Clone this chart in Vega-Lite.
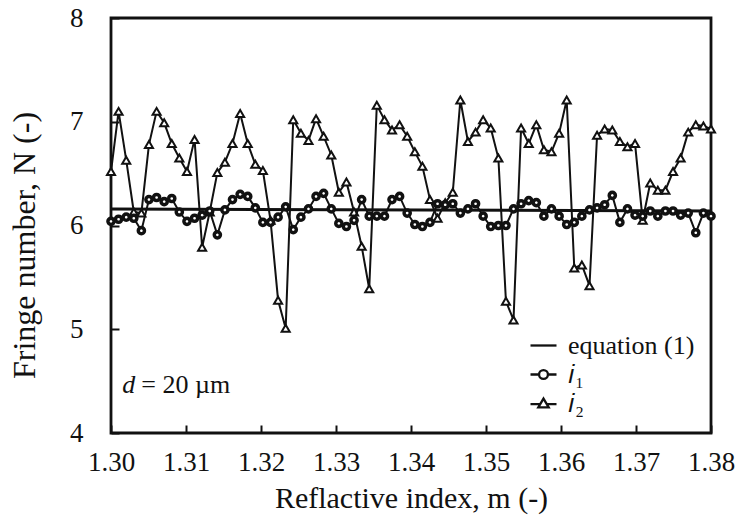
{
  "$schema": "https://vega.github.io/schema/vega-lite/v6.json",
  "width": 600,
  "height": 415,
  "autosize": {"type": "none"},
  "padding": {"left": 111, "top": 18, "right": 24, "bottom": 89},
  "background": "white",
  "datasets": {
    "eq": [
      {"m": 1.30, "N": 6.16},
      {"m": 1.38, "N": 6.14}
    ],
    "i2": [
      {"m": 1.30000, "N": 6.52}, {"m": 1.30101, "N": 7.10}, {"m": 1.30203, "N": 6.63}, {"m": 1.30304, "N": 6.13},
      {"m": 1.30405, "N": 6.12}, {"m": 1.30506, "N": 6.78}, {"m": 1.30608, "N": 7.10}, {"m": 1.30709, "N": 6.99},
      {"m": 1.30810, "N": 6.79}, {"m": 1.30911, "N": 6.65}, {"m": 1.31013, "N": 6.52}, {"m": 1.31114, "N": 6.83},
      {"m": 1.31215, "N": 5.79}, {"m": 1.31316, "N": 6.13}, {"m": 1.31418, "N": 6.51}, {"m": 1.31519, "N": 6.61},
      {"m": 1.31620, "N": 6.79}, {"m": 1.31722, "N": 7.08}, {"m": 1.31823, "N": 6.79}, {"m": 1.31924, "N": 6.59},
      {"m": 1.32025, "N": 6.53}, {"m": 1.32127, "N": 6.05}, {"m": 1.32228, "N": 5.28}, {"m": 1.32329, "N": 5.01},
      {"m": 1.32430, "N": 7.02}, {"m": 1.32532, "N": 6.89}, {"m": 1.32633, "N": 6.82}, {"m": 1.32734, "N": 7.03},
      {"m": 1.32835, "N": 6.86}, {"m": 1.32937, "N": 6.68}, {"m": 1.33038, "N": 6.32}, {"m": 1.33139, "N": 6.42},
      {"m": 1.33241, "N": 6.13}, {"m": 1.33342, "N": 5.80}, {"m": 1.33443, "N": 5.39}, {"m": 1.33544, "N": 7.16},
      {"m": 1.33646, "N": 7.02}, {"m": 1.33747, "N": 6.92}, {"m": 1.33848, "N": 6.97}, {"m": 1.33949, "N": 6.86},
      {"m": 1.34051, "N": 6.71}, {"m": 1.34152, "N": 6.57}, {"m": 1.34253, "N": 6.25}, {"m": 1.34354, "N": 6.07},
      {"m": 1.34456, "N": 6.22}, {"m": 1.34557, "N": 6.32}, {"m": 1.34658, "N": 7.21}, {"m": 1.34759, "N": 6.81},
      {"m": 1.34861, "N": 6.90}, {"m": 1.34962, "N": 7.02}, {"m": 1.35063, "N": 6.94}, {"m": 1.35165, "N": 6.65},
      {"m": 1.35266, "N": 5.27}, {"m": 1.35367, "N": 5.09}, {"m": 1.35468, "N": 6.94}, {"m": 1.35570, "N": 6.79},
      {"m": 1.35671, "N": 6.97}, {"m": 1.35772, "N": 6.73}, {"m": 1.35873, "N": 6.71}, {"m": 1.35975, "N": 6.89},
      {"m": 1.36076, "N": 7.21}, {"m": 1.36177, "N": 5.59}, {"m": 1.36278, "N": 5.62}, {"m": 1.36380, "N": 5.42},
      {"m": 1.36481, "N": 6.87}, {"m": 1.36582, "N": 6.93}, {"m": 1.36684, "N": 6.92}, {"m": 1.36785, "N": 6.81},
      {"m": 1.36886, "N": 6.76}, {"m": 1.36987, "N": 6.79}, {"m": 1.37089, "N": 6.05}, {"m": 1.37190, "N": 6.41},
      {"m": 1.37291, "N": 6.34}, {"m": 1.37392, "N": 6.34}, {"m": 1.37494, "N": 6.52}, {"m": 1.37595, "N": 6.65},
      {"m": 1.37696, "N": 6.90}, {"m": 1.37797, "N": 6.97}, {"m": 1.37899, "N": 6.96}, {"m": 1.38000, "N": 6.93}
    ],
    "i1": [
      {"m": 1.30000, "N": 6.04}, {"m": 1.30101, "N": 6.06}, {"m": 1.30203, "N": 6.08}, {"m": 1.30304, "N": 6.07},
      {"m": 1.30405, "N": 5.95}, {"m": 1.30506, "N": 6.25}, {"m": 1.30608, "N": 6.27}, {"m": 1.30709, "N": 6.23},
      {"m": 1.30810, "N": 6.26}, {"m": 1.30911, "N": 6.13}, {"m": 1.31013, "N": 6.04}, {"m": 1.31114, "N": 6.07},
      {"m": 1.31215, "N": 6.10}, {"m": 1.31316, "N": 6.14}, {"m": 1.31418, "N": 5.91}, {"m": 1.31519, "N": 6.15},
      {"m": 1.31620, "N": 6.25}, {"m": 1.31722, "N": 6.30}, {"m": 1.31823, "N": 6.28}, {"m": 1.31924, "N": 6.17},
      {"m": 1.32025, "N": 6.03}, {"m": 1.32127, "N": 6.03}, {"m": 1.32228, "N": 6.08}, {"m": 1.32329, "N": 6.18},
      {"m": 1.32430, "N": 5.96}, {"m": 1.32532, "N": 6.08}, {"m": 1.32633, "N": 6.16}, {"m": 1.32734, "N": 6.28},
      {"m": 1.32835, "N": 6.31}, {"m": 1.32937, "N": 6.16}, {"m": 1.33038, "N": 6.02}, {"m": 1.33139, "N": 5.99},
      {"m": 1.33241, "N": 6.05}, {"m": 1.33342, "N": 6.25}, {"m": 1.33443, "N": 6.09}, {"m": 1.33544, "N": 6.09},
      {"m": 1.33646, "N": 6.09}, {"m": 1.33747, "N": 6.25}, {"m": 1.33848, "N": 6.28}, {"m": 1.33949, "N": 6.12},
      {"m": 1.34051, "N": 6.01}, {"m": 1.34152, "N": 5.99}, {"m": 1.34253, "N": 6.03}, {"m": 1.34354, "N": 6.21},
      {"m": 1.34456, "N": 6.20}, {"m": 1.34557, "N": 6.21}, {"m": 1.34658, "N": 6.12}, {"m": 1.34759, "N": 6.16},
      {"m": 1.34861, "N": 6.21}, {"m": 1.34962, "N": 6.09}, {"m": 1.35063, "N": 5.99}, {"m": 1.35165, "N": 6.00},
      {"m": 1.35266, "N": 6.00}, {"m": 1.35367, "N": 6.16}, {"m": 1.35468, "N": 6.21}, {"m": 1.35570, "N": 6.24},
      {"m": 1.35671, "N": 6.22}, {"m": 1.35772, "N": 6.09}, {"m": 1.35873, "N": 6.16}, {"m": 1.35975, "N": 6.09},
      {"m": 1.36076, "N": 6.01}, {"m": 1.36177, "N": 6.03}, {"m": 1.36278, "N": 6.09}, {"m": 1.36380, "N": 6.15},
      {"m": 1.36481, "N": 6.17}, {"m": 1.36582, "N": 6.20}, {"m": 1.36684, "N": 6.29}, {"m": 1.36785, "N": 6.03},
      {"m": 1.36886, "N": 6.16}, {"m": 1.36987, "N": 6.10}, {"m": 1.37089, "N": 6.09}, {"m": 1.37190, "N": 6.14},
      {"m": 1.37291, "N": 6.09}, {"m": 1.37392, "N": 6.14}, {"m": 1.37494, "N": 6.14}, {"m": 1.37595, "N": 6.10},
      {"m": 1.37696, "N": 6.12}, {"m": 1.37797, "N": 5.93}, {"m": 1.37899, "N": 6.12}, {"m": 1.38000, "N": 6.09}
    ],
    "legendrows": [
      {"series": "equation (1)"}, {"series": "𝑖₁"}, {"series": "𝑖₂"}
    ],
    "note": [{"a": "d", "b": "= 20 µm"}]
  },
  "layer": [
    {
      "data": {"name": "eq"},
      "mark": {"type": "line", "color": "#111", "strokeWidth": 3},
      "encoding": {
        "x": {
          "field": "m", "type": "quantitative",
          "scale": {"domain": [1.30, 1.38], "nice": false, "zero": false},
          "axis": {
            "title": "Reflactive index, m (-)",
            "values": [1.30, 1.305, 1.31, 1.315, 1.32, 1.325, 1.33, 1.335, 1.34, 1.345, 1.35, 1.355, 1.36, 1.365, 1.37, 1.375, 1.38],
            "labelExpr": "round(datum.value * 1000) % 10 === 0 ? format(datum.value, '.2f') : ''",
            "labelPadding": 24,
            "titlePadding": 8,
            "labelOverlap": false,
            "labelFlush": false
          }
        },
        "y": {
          "field": "N", "type": "quantitative",
          "scale": {"domain": [4, 8], "nice": false, "zero": false},
          "axis": {
            "title": "Fringe number, N (-)",
            "titleFontSize": 32,
            "values": [4, 5, 6, 7, 8],
            "format": "d",
            "labelPadding": 36,
            "titlePadding": 28,
            "titleY": 227
          }
        }
      }
    },
    {
      "data": {"name": "i2"},
      "mark": {"type": "line", "color": "#111", "strokeWidth": 2},
      "encoding": {"x": {"field": "m", "type": "quantitative"}, "y": {"field": "N", "type": "quantitative"}}
    },
    {
      "data": {"name": "i2"},
      "mark": {"type": "point", "shape": "triangle-up", "filled": true, "fill": "white", "stroke": "#111", "strokeWidth": 2, "size": 65, "opacity": 1},
      "encoding": {"x": {"field": "m", "type": "quantitative"}, "y": {"field": "N", "type": "quantitative"}}
    },
    {
      "data": {"name": "i1"},
      "mark": {"type": "line", "color": "#111", "strokeWidth": 2},
      "encoding": {"x": {"field": "m", "type": "quantitative"}, "y": {"field": "N", "type": "quantitative"}}
    },
    {
      "data": {"name": "i1"},
      "mark": {"type": "point", "shape": "circle", "filled": true, "fill": "white", "stroke": "#111", "strokeWidth": 3.5, "size": 38, "opacity": 1},
      "encoding": {"x": {"field": "m", "type": "quantitative"}, "y": {"field": "N", "type": "quantitative"}}
    },
    {
      "data": {"name": "legendrows"},
      "transform": [{"filter": "false"}],
      "mark": {"type": "point", "filled": false, "stroke": "#111", "strokeWidth": 2.3, "opacity": 1},
      "encoding": {
        "shape": {
          "field": "series", "type": "nominal",
          "scale": {
            "domain": ["equation (1)", "𝑖₁", "𝑖₂"],
            "range": [
              "M-1,0H1",
              "M-1,0H-0.34M0.34,0H1M0.34,0A0.34,0.34 0 1,1 -0.34,0A0.34,0.34 0 1,1 0.34,0Z",
              "M-1,0.05H-0.25M0.25,0.05H1M0,-0.38L0.4,0.3L-0.4,0.3Z"
            ]
          },
          "legend": {
            "title": null,
            "orient": "bottom-right",
            "offset": 16,
            "symbolSize": 676,
            "symbolStrokeWidth": 2.3,
            "symbolStrokeColor": "#111",
            "symbolFillColor": "transparent",
            "labelFont": "Liberation Serif",
            "labelFontSize": 26,
            "labelColor": "#111",
            "labelOffset": 10,
            "rowPadding": 1,
            "padding": 0
          }
        }
      }
    },
    {
      "data": {"name": "note"},
      "mark": {"type": "text", "font": "Liberation Serif", "fontSize": 26, "fontStyle": "italic", "align": "left", "baseline": "middle", "color": "#111"},
      "encoding": {
        "text": {"field": "a", "type": "nominal"},
        "x": {"datum": 1.3015, "type": "quantitative"},
        "y": {"datum": 4.46, "type": "quantitative"}
      }
    },
    {
      "data": {"name": "note"},
      "mark": {"type": "text", "font": "Liberation Serif", "fontSize": 26, "align": "left", "baseline": "middle", "dx": 19, "color": "#111"},
      "encoding": {
        "text": {"field": "b", "type": "nominal"},
        "x": {"datum": 1.3015, "type": "quantitative"},
        "y": {"datum": 4.46, "type": "quantitative"}
      }
    }
  ],
  "config": {
    "font": "Liberation Serif",
    "view": {"stroke": "#111", "strokeWidth": 2.8},
    "axis": {
      "domain": false,
      "grid": false,
      "labelFont": "Liberation Serif",
      "titleFont": "Liberation Serif",
      "labelFontSize": 27,
      "titleFontSize": 30,
      "titleFontWeight": "normal",
      "labelColor": "#111",
      "titleColor": "#111",
      "tickColor": "#111",
      "tickWidth": 2,
      "tickSize": -8
    }
  }
}
